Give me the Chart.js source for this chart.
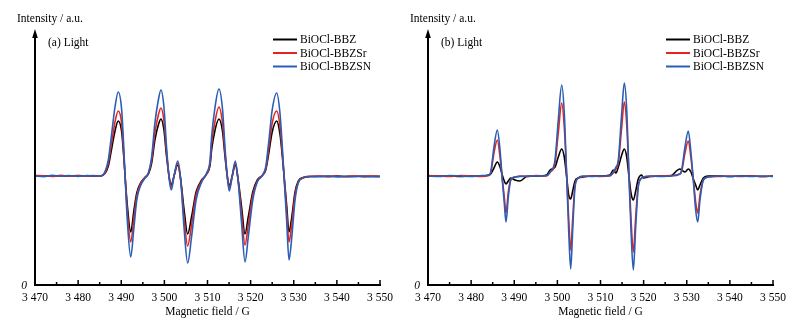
<!DOCTYPE html>
<html>
<head>
<meta charset="utf-8">
<title>EPR spectra</title>
<script src="https://cdn.jsdelivr.net/npm/chart.js@4/dist/chart.umd.min.js"></script>
<style>
  html, body { margin: 0; padding: 0; background: #fff; }
  #wrap { display: flex; width: 800px; height: 329px; }
  canvas { display: block; }
</style>
</head>
<body>
<div id="wrap">
  <canvas id="panelA" width="400" height="329"></canvas>
  <canvas id="panelB" width="400" height="329"></canvas>
</div>
<script>
'use strict';

var seriesNames = ['BiOCl-BBZ', 'BiOCl-BBZSr', 'BiOCl-BBZSN'];
var fieldTicks = [3470, 3480, 3490, 3500, 3510, 3520, 3530, 3540, 3550];

// panel (a) - magnetic field (G)
var fieldA = [
  3470, 3472, 3474, 3476, 3478, 3480, 3482, 3483.5, 3485.1, 3486.2,
  3487.0, 3487.8, 3488.55, 3489.3, 3490.1, 3490.5, 3490.9, 3491.4, 3492.2, 3492.95,
  3493.6, 3494.35, 3495.5, 3496.3, 3497.05, 3497.8, 3498.6, 3499.2, 3499.9, 3500.5,
  3501.15, 3501.6, 3502.2, 3503.1, 3503.8, 3504.55, 3505.4, 3506.3, 3507.35, 3508.65,
  3509.8, 3510.6, 3510.95, 3511.75, 3512.65, 3513.5, 3514.05, 3514.6, 3515.05, 3515.7,
  3516.45, 3517.15, 3517.9, 3518.7, 3519.45, 3520.5, 3521.55, 3522.8, 3523.5, 3524.25,
  3525.0, 3526.05, 3526.8, 3527.35, 3527.8, 3528.35, 3528.9, 3529.55, 3530.3, 3531.05,
  3532.2, 3533.75, 3536, 3538, 3540, 3542, 3544, 3546, 3548, 3550
];
var bbzA = [
  109, 109.3, 108.8, 109.2, 108.9, 109.4, 108.8, 109.1, 109, 111.5,
  119, 137, 154, 164, 153, 133, 108.5, 80, 53, 75,
  92, 101, 107.5, 111, 122, 145, 160, 166, 155, 129,
  107, 100, 108.5, 120, 105, 76, 51, 68, 93, 105,
  111, 120, 135, 155, 166, 153, 129, 108.5, 99, 108.5,
  120, 104, 78, 51, 68, 93, 105, 110, 115, 133,
  153, 164, 151, 129, 107, 80, 53, 68, 93, 104,
  107.5, 108.5, 108.8, 108.6, 108.9, 108.5, 108.8, 108.6, 108.7, 108.5
];
var bbzSrA = [
  109.5, 109.2, 108.6, 109.6, 108.8, 109.3, 108.7, 109.5, 109, 112,
  122, 143, 163, 174, 161, 137, 108, 74, 43, 68,
  89, 100, 107.5, 112, 125, 152, 170, 177, 164, 133,
  106, 98, 108, 122, 104, 68, 39, 60, 90, 104,
  111, 122, 141, 164, 178, 161, 133, 108, 97, 108,
  122, 103, 71, 40, 60, 90, 104, 110, 116, 138,
  162, 174, 159, 132, 106, 74, 43, 61, 90, 103,
  107.5, 108.5, 108.9, 108.2, 108.8, 108.3, 109, 108.4, 108.9, 108.5
];
var bbzSnA = [
  109, 108.4, 109.6, 108.8, 109.5, 108.6, 109.4, 109.2, 109, 113,
  125, 152, 178, 193, 175, 145, 108, 65, 28, 58,
  85, 98, 107, 112, 128, 162, 185, 195, 178, 138,
  105, 95, 108, 124, 105, 58, 22, 48, 85, 103,
  112, 125, 148, 178, 196, 175, 138, 108, 94, 108,
  124, 102, 62, 23, 48, 85, 103, 110, 118, 145,
  175, 192, 172, 138, 105, 65, 25, 48, 85, 102,
  107, 108.5, 108.2, 108.9, 108.1, 108.7, 108.3, 108.8, 108.2, 108.6
];

// panel (b)
var fieldB = [
  3470, 3472.5, 3475, 3477.5, 3480, 3482.5, 3484.0, 3484.54, 3485.3, 3486.07,
  3486.7, 3487.23, 3487.69, 3488.09, 3488.62, 3489.18, 3489.78, 3490.17, 3491.33, 3492.89,
  3495, 3497.52, 3498.29, 3499.45, 3500.21, 3501.0, 3501.6, 3502.16, 3502.62, 3503.09,
  3503.55, 3504.09, 3504.85, 3506.01, 3508, 3510, 3512.2, 3512.97, 3513.59, 3514.13,
  3514.92, 3515.52, 3516.08, 3516.61, 3517.07, 3517.61, 3518.16, 3518.76, 3519.55, 3519.92,
  3521.48, 3524, 3526.11, 3528.43, 3528.83, 3529.59, 3530.36, 3530.98, 3531.52, 3532.07,
  3532.54, 3533.07, 3533.84, 3535.0, 3537.7, 3540, 3542.5, 3545, 3547.5, 3550
];
var bbzB = [
  109, 109, 109, 108.5, 109, 109, 110, 111, 117, 123,
  118, 110, 104, 101, 104, 107, 106, 105, 104, 108.5,
  109, 110, 115, 118, 128, 136, 128, 108, 90, 86,
  94, 104, 107, 108, 109, 109, 110, 115, 112, 118,
  130, 136, 128, 108, 92, 85, 94, 106, 110, 107,
  108.5, 109, 109, 116, 115, 113, 116, 113, 106, 100,
  95, 100, 107, 109, 109, 108.5, 109, 109, 108.5, 109
];
var bbzSrB = [
  109.5, 109, 108.5, 109.5, 109, 108.5, 109.5, 112, 132, 145,
  128, 106, 88, 72, 93, 105, 107.5, 108, 109, 108.5,
  109.5, 109, 112.5, 122, 152, 182, 158, 110, 67, 35,
  66, 100, 107, 108.5, 109, 108.5, 109.5, 112, 116, 122,
  158, 183, 160, 110, 67, 33, 68, 100, 107, 108,
  108.5, 109, 109.5, 111, 114, 132, 144, 127, 106, 83,
  72, 90, 105, 108, 108.5, 109, 108.5, 109, 108.5, 109
];
var bbzSnB = [
  109, 108.5, 109.5, 109, 108.5, 109.5, 109.5, 113, 138, 155,
  135, 105, 82, 63, 88, 105, 107.5, 108, 108.5, 109,
  109, 109.5, 113, 125, 165, 200, 172, 108, 55, 16,
  55, 98, 107, 109, 108.5, 109, 109, 113, 118, 125,
  172, 202, 175, 108, 55, 15, 58, 98, 107, 108,
  109, 108.5, 109, 111, 115, 138, 154, 132, 105, 75,
  63, 85, 105, 108, 109, 108.5, 109, 108.5, 109, 108.5
];

var colors = ['#000000', '#e8231e', '#2a5db5'];
var fontFamily = '"Liberation Serif", "DejaVu Serif", serif';

function toPoints(xs, ys) {
  return xs.map(function(x, i) { return { x: x, y: ys[i] }; });
}

function formatField(v) {
  return String(v).replace(/^(\d)(\d{3})$/, '$1 $2');
}

// axis arrow, inward ticks, labels and legend
var decorPlugin = {
  id: 'decor',
  afterDraw: function(chart, args, opts) {
    var ctx = chart.ctx;
    var area = chart.chartArea;
    var xScale = chart.scales.x;
    var x0 = area.left;

    ctx.save();
    ctx.strokeStyle = '#000';
    ctx.fillStyle = '#000';

    // y axis with arrow head
    ctx.lineWidth = 2;
    ctx.beginPath();
    ctx.moveTo(x0, area.bottom + 1);
    ctx.lineTo(x0, area.top + 5);
    ctx.stroke();
    ctx.beginPath();
    ctx.moveTo(x0, area.top - 1);
    ctx.lineTo(x0 - 2.8, area.top + 8);
    ctx.lineTo(x0 + 2.8, area.top + 8);
    ctx.closePath();
    ctx.fill();

    // ticks point up into the plot
    ctx.lineWidth = 1.5;
    for (var v = fieldTicks[0]; v <= fieldTicks[fieldTicks.length - 1]; v += 5) {
      var px = xScale.getPixelForValue(v);
      var len = (v % 10 === 0) ? 5 : 3;
      ctx.beginPath();
      ctx.moveTo(px, area.bottom);
      ctx.lineTo(px, area.bottom - len);
      ctx.stroke();
    }

    ctx.textBaseline = 'middle';
    ctx.font = '11.5px ' + fontFamily;
    ctx.textAlign = 'left';
    ctx.fillText('Intensity / a.u.', x0 - 18, 19);
    ctx.fillText(opts.label, x0 + 13, 43);

    ctx.font = 'italic 11.5px ' + fontFamily;
    ctx.textAlign = 'center';
    ctx.fillText('0', x0 - 11, area.bottom + 1);

    // legend
    ctx.font = '11.5px ' + fontFamily;
    ctx.textAlign = 'left';
    var rows = [39.5, 53, 66.5];
    seriesNames.forEach(function(name, i) {
      ctx.strokeStyle = colors[i];
      ctx.lineWidth = 2;
      ctx.beginPath();
      ctx.moveTo(x0 + 238, rows[i]);
      ctx.lineTo(x0 + 262, rows[i]);
      ctx.stroke();
      ctx.fillText(name, x0 + 265, rows[i] + 0.5);
    });

    ctx.restore();
  }
};

function buildChart(canvasId, field, series, label, padLeft, padRight) {
  var datasets = series.map(function(ys, i) {
    return {
      label: seriesNames[i],
      data: toPoints(field, ys),
      borderColor: colors[i],
      borderWidth: 1.6,
      pointRadius: 0,
      cubicInterpolationMode: 'monotone',
      order: 2 - i
    };
  });

  return new Chart(document.getElementById(canvasId), {
    type: 'line',
    data: { datasets: datasets },
    plugins: [decorPlugin],
    options: {
      responsive: false,
      animation: false,
      devicePixelRatio: 1,
      layout: { padding: { top: 30, left: padLeft, right: padRight, bottom: 0 } },
      plugins: {
        legend: { display: false },
        tooltip: { enabled: false },
        decor: { label: label }
      },
      scales: {
        x: {
          type: 'linear',
          min: fieldTicks[0],
          max: fieldTicks[fieldTicks.length - 1],
          afterBuildTicks: function(scale) {
            scale.ticks = fieldTicks.map(function(v) { return { value: v }; });
          },
          afterFit: function(scale) { scale.height = 44; },
          grid: { display: false, drawTicks: false },
          border: { display: true, color: '#000', width: 2 },
          ticks: {
            color: '#000',
            padding: 6,
            maxRotation: 0,
            autoSkip: false,
            font: { family: fontFamily, size: 11.5 },
            callback: function(v) { return formatField(v); }
          },
          title: {
            display: true,
            text: 'Magnetic field / G',
            color: '#000',
            font: { family: fontFamily, size: 11.5 },
            padding: { top: 0, bottom: 10 }
          }
        },
        y: {
          display: false,
          min: 0,
          max: 255
        }
      }
    }
  });
}

buildChart('panelA', fieldA, [bbzA, bbzSrA, bbzSnA], '(a) Light', 35, 20);
buildChart('panelB', fieldB, [bbzB, bbzSrB, bbzSnB], '(b) Light', 28, 27);
</script>
</body>
</html>
